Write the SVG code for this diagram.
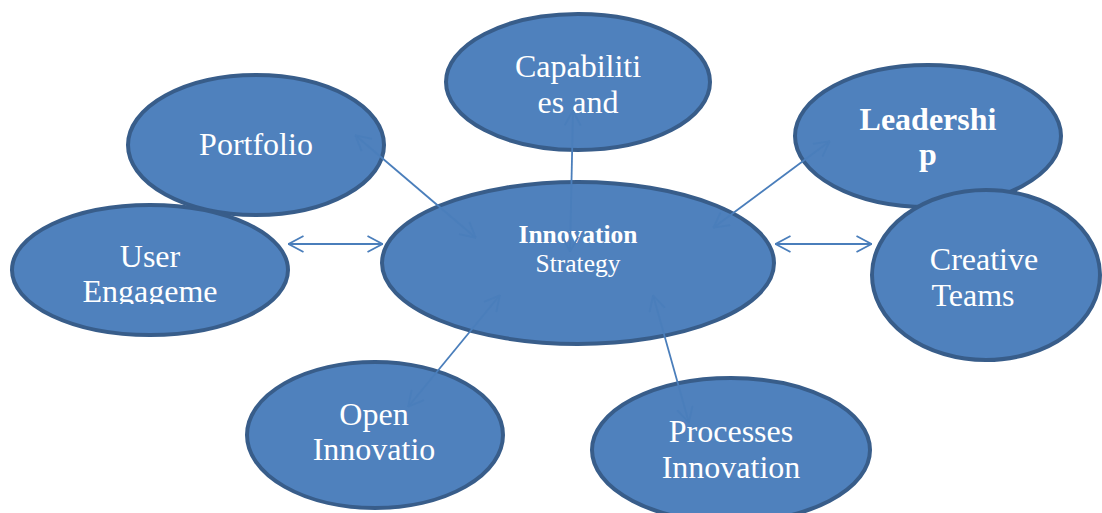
<svg xmlns="http://www.w3.org/2000/svg" width="1102" height="513" viewBox="0 0 1102 513">
<style>
.node{fill:#4f81bd;stroke:#385d8a;stroke-width:4}
.t{font-family:"Liberation Serif","Times New Roman",serif;fill:#ffffff;text-anchor:middle;font-size:32px}
.b{font-weight:bold}
.c{font-size:25.5px}
.conn{stroke:#4a7ebb;stroke-width:1.8;fill:none;marker-start:url(#ah);marker-end:url(#ah)}
</style>
<defs>
<marker id="ah" viewBox="0 0 16 18" refX="16" refY="9" markerWidth="16" markerHeight="18" markerUnits="userSpaceOnUse" orient="auto-start-reverse">
<path d="M0.5,1 L15.5,9 L0.5,17" fill="none" stroke="#4a7ebb" stroke-width="1.8"/>
</marker>
<clipPath id="clipUser"><rect x="0" y="0" width="400" height="304"/></clipPath>
</defs>
<g id="portfolio"><ellipse class="node" cx="256" cy="145" rx="128" ry="70"/><text class="t" x="256" y="155">Portfolio</text></g>
<g id="user"><ellipse class="node" cx="150" cy="270" rx="138" ry="65"/><g clip-path="url(#clipUser)"><text class="t" x="150" y="267">User</text><text class="t" x="150" y="302">Engageme</text></g></g>
<g id="capabilities"><ellipse class="node" cx="578" cy="82" rx="132" ry="68"/><text class="t" x="578" y="77">Capabiliti</text><text class="t" x="578" y="113">es and</text></g>
<g id="leadership"><ellipse class="node" cx="928" cy="136" rx="133" ry="71"/><text class="t b" x="928" y="130">Leadershi</text><text class="t b" x="928" y="165">p</text></g>
<g id="creative"><ellipse class="node" cx="986" cy="275" rx="114" ry="85"/><text class="t" x="984" y="270">Creative</text><text class="t" x="973" y="306">Teams</text></g>
<g id="innovation"><ellipse class="node" cx="578" cy="263" rx="196" ry="81"/><text class="t c b" x="578" y="243">Innovation</text><text class="t c" x="578" y="272">Strategy</text></g>
<g id="open"><ellipse class="node" cx="375" cy="435" rx="128" ry="73"/><text class="t" x="374" y="425">Open</text><text class="t" x="374" y="460">Innovatio</text></g>
<g id="processes"><ellipse class="node" cx="731" cy="450" rx="139" ry="72"/><text class="t" x="731" y="442">Processes</text><text class="t" x="731" y="478">Innovation</text></g>
<g id="connectors">
<line class="conn" x1="355" y1="135" x2="476" y2="238"/>
<line class="conn" x1="288" y1="244" x2="383" y2="244"/>
<line class="conn" x1="713" y1="228" x2="830" y2="141"/>
<line class="conn" x1="775" y1="244" x2="872" y2="244"/>
<line class="conn" x1="408" y1="407" x2="500" y2="295"/>
<line class="conn" x1="689" y1="423" x2="653" y2="295"/>
<line class="conn" x1="573" y1="110" x2="570" y2="252"/>
</g>
</svg>
